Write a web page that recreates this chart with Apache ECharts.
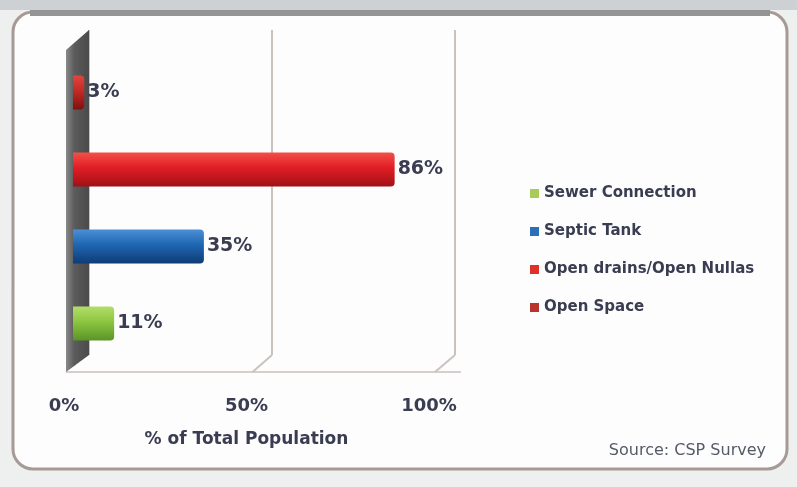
<!DOCTYPE html>
<html>
<head>
<meta charset="utf-8">
<script src="https://cdn.jsdelivr.net/npm/echarts@6/dist/echarts.min.js"></script>
<style>
  html, body { margin: 0; padding: 0; background: #eef0f0; }
  #chart { width: 797px; height: 487px; }
</style>
</head>
<body>
<div id="chart"></div>
<script>
// Sanitation access, share of total population
const categories = ['Sewer Connection', 'Septic Tank', 'Open drains/Open Nullas', 'Open Space'];
const shares = [11, 35, 86, 3];
const tickLabels = ['0%', '50%', '100%'];
const axisTitle = '% of Total Population';
const sourceNote = 'Source: CSP Survey';

const palette = [
  ['#b4dc6a', '#8cc63f', '#5a9428'],
  ['#4a90d6', '#1f66b2', '#0f3c74'],
  ['#f25048', '#e11d25', '#9e1216'],
  ['#e0463c', '#c42a26', '#7c1010']
];
const legendColors = ['#a8cc5a', '#2b6fb8', '#e0302a', '#b8342c'];

const chart = echarts.init(document.getElementById('chart'));

const font = '"DejaVu Sans", sans-serif';
const textColor = '#3a3d52';

function grad(c) {
  return new echarts.graphic.LinearGradient(0, 0, 0, 1, [
    { offset: 0, color: c[0] },
    { offset: 0.45, color: c[1] },
    { offset: 1, color: c[2] }
  ]);
}

const series = categories.map((name, i) => ({
  name: name,
  type: 'bar',
  xAxisIndex: 0,
  yAxisIndex: 0,
  stack: 'all',
  barWidth: 34,
  data: categories.map((c, j) => (j === i ? shares[i] : '-')),
  itemStyle: { color: grad(palette[i]), borderRadius: [0, 4, 4, 0] },
  label: {
    show: true,
    position: 'right',
    distance: 3,
    formatter: '{c}%',
    fontFamily: font,
    fontWeight: 'bold',
    fontSize: 19,
    color: textColor
  },
  z: 5
}));

// Back wall gridlines (50% / 100%)
series.push({
  type: 'bar', xAxisIndex: 1, yAxisIndex: 1, data: [], silent: true
});

const backGrid = { left: 89, top: 30, width: 366, height: 325 };
const frontGrid = { left: 64, top: 372, width: 365, height: 1 };

chart.setOption({
  backgroundColor: 'transparent',
  animation: false,
  legend: {
    orient: 'vertical',
    left: 525,
    top: 181,
    itemGap: 23,
    itemWidth: 9,
    itemHeight: 9,
    icon: 'rect',
    data: categories.map((name, i) => ({ name: name, itemStyle: { color: legendColors[i] } })),
    textStyle: { fontFamily: font, fontWeight: 'bold', fontSize: 15, color: textColor, padding: [0, 0, 0, 0] }
  },
  grid: [
    { left: 73, top: 54, width: 374, height: 308 },
    backGrid,
    frontGrid
  ],
  xAxis: [
    { gridIndex: 0, type: 'value', min: 0, max: 100, show: false },
    {
      gridIndex: 1, type: 'value', min: 0, max: 100, interval: 50,
      axisLine: { show: false }, axisTick: { show: false }, axisLabel: { show: false },
      splitLine: { show: true, lineStyle: { color: '#cbc2be', width: 2 } }
    },
    {
      gridIndex: 2, type: 'value', min: 0, max: 100, interval: 50,
      axisLine: { show: false },
      axisTick: { show: false },
      splitLine: { show: false },
      axisLabel: {
        margin: 24,
        formatter: v => tickLabels[Math.round(v / 50)],
        fontFamily: font, fontWeight: 'bold', fontSize: 18, color: textColor
      },
      name: axisTitle,
      nameLocation: 'middle',
      nameGap: 58,
      nameTextStyle: { fontFamily: font, fontWeight: 'bold', fontSize: 17, color: textColor }
    }
  ],
  yAxis: [
    { gridIndex: 0, type: 'category', data: categories, show: false },
    { gridIndex: 1, type: 'value', show: false },
    { gridIndex: 2, type: 'value', show: false }
  ],
  series: series
});

// Frame, wall and floor edges drawn from the axis positions
const bx = v => chart.convertToPixel({ xAxisIndex: 1 }, v);
const fx = v => chart.convertToPixel({ xAxisIndex: 2 }, v);
const backBottom = backGrid.top + backGrid.height;
const floorY = frontGrid.top;
const wallFront = fx(0) + 2;
const wallBack = bx(0);

const graphics = [
  {
    type: 'rect', z: -10, silent: true,
    shape: { x: 13, y: 12, width: 774, height: 457, r: 20 },
    style: { fill: '#fdfdfd', stroke: '#a59a96', lineWidth: 3 }
  },
  {
    type: 'rect', z: -9, silent: true,
    shape: { x: 30, y: 10, width: 740, height: 6 },
    style: { fill: '#929495' }
  },
  {
    type: 'rect', z: -11, silent: true,
    shape: { x: 0, y: 0, width: 797, height: 10 },
    style: { fill: '#cdd1d3' }
  },
  {
    type: 'line', z: 0, silent: true,
    shape: { x1: wallFront, y1: floorY, x2: bx(100) + 6, y2: floorY },
    style: { stroke: '#d6cfcb', lineWidth: 2 }
  },
  {
    type: 'polygon', z: 1, silent: true,
    shape: { points: [
      [wallFront, backGrid.top + 20], [wallBack, backGrid.top],
      [wallBack, backBottom], [wallFront, floorY]
    ] },
    style: {
      fill: new echarts.graphic.LinearGradient(0, 0, 1, 0, [
        { offset: 0, color: '#8a8a8a' },
        { offset: 0.35, color: '#5c5c5c' },
        { offset: 1, color: '#4a4a4a' }
      ])
    }
  },
  {
    type: 'text', silent: true,
    style: {
      text: sourceNote, x: 766, y: 451, align: 'right', verticalAlign: 'middle',
      font: '16px ' + font, fill: '#555a66'
    }
  }
];
[50, 100].forEach(v => {
  graphics.push({
    type: 'line', z: 0, silent: true,
    shape: { x1: bx(v), y1: backBottom, x2: fx(v) + 6, y2: floorY },
    style: { stroke: '#cbc2be', lineWidth: 2 }
  });
});
chart.setOption({ graphic: graphics });
</script>
</body>
</html>
